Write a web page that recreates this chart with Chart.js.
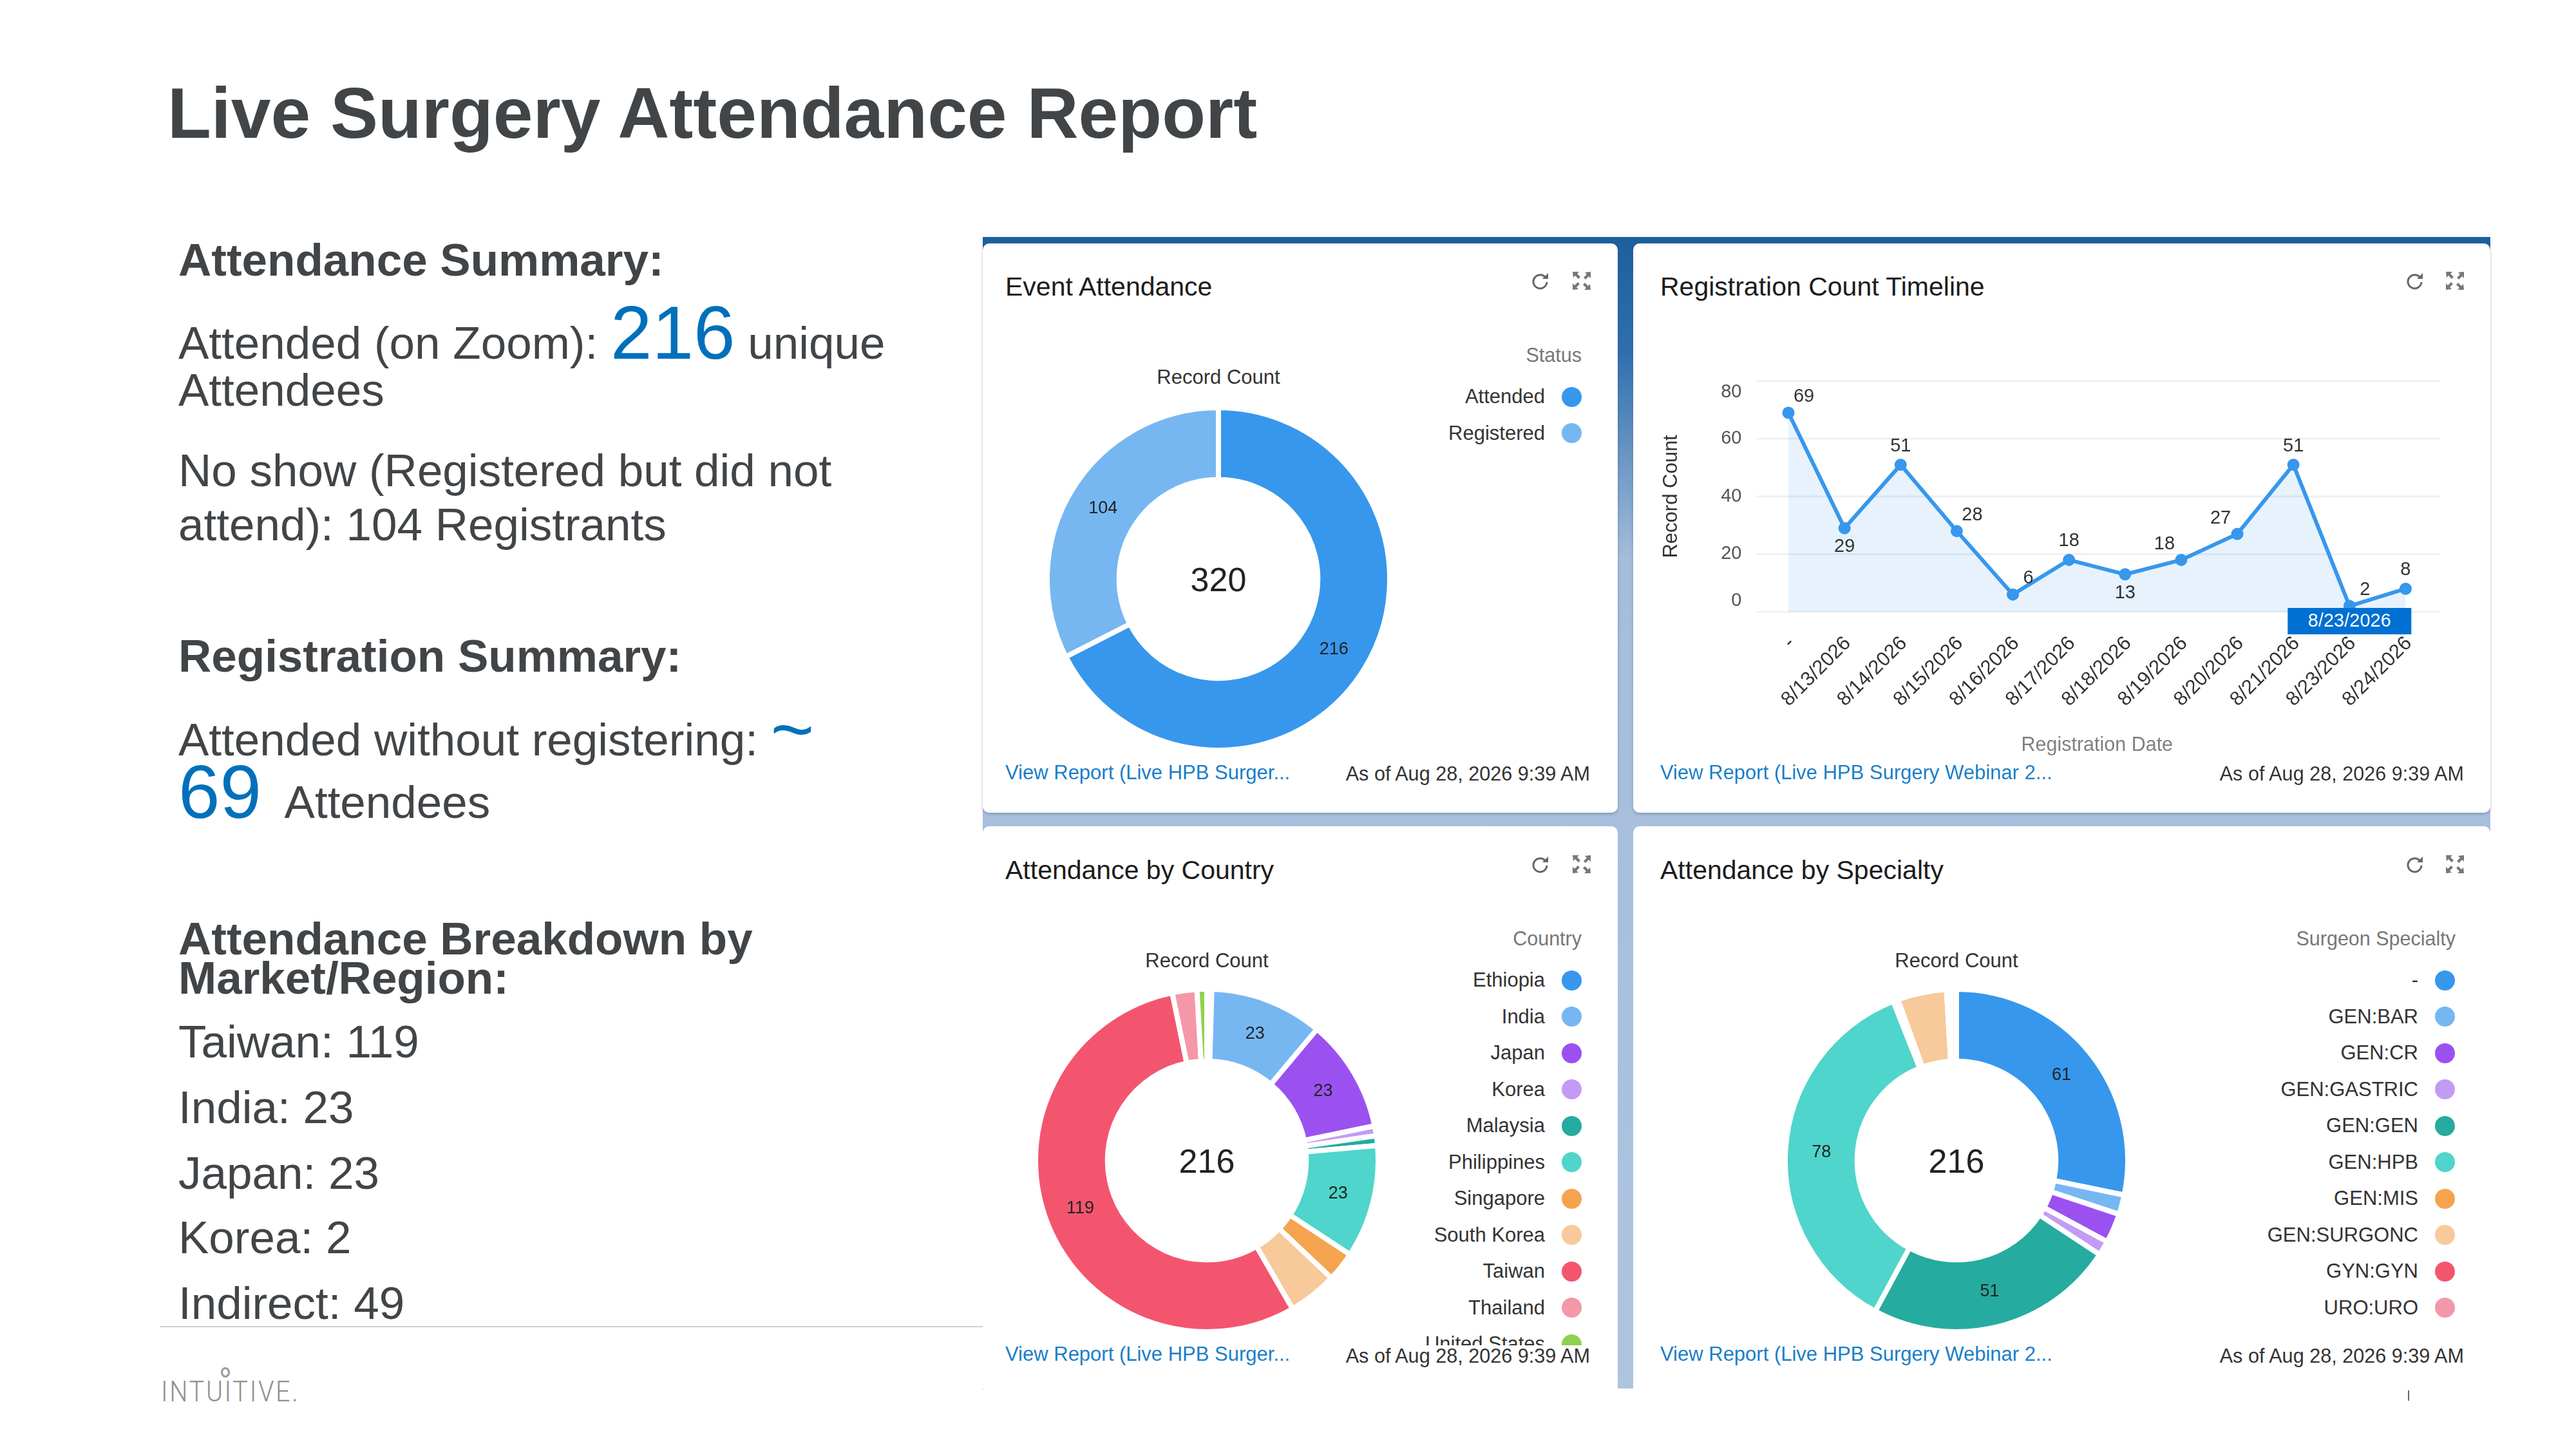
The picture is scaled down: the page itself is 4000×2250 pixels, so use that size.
<!DOCTYPE html>
<html>
<head>
<meta charset="utf-8">
<title>Live Surgery Attendance Report</title>
<script src="https://cdn.jsdelivr.net/npm/chart.js@4"></script>
<style>
  html, body { margin: 0; padding: 0; background: #fff; }
  #page { position: relative; width: 4000px; height: 2250px; overflow: hidden; background: #fff;
          font-family: "Liberation Sans", Arial, sans-serif; color: #414548; }
  .t { position: absolute; white-space: nowrap; transform: translateY(-50%); line-height: 1; }
  .r { transform: translate(-100%, -50%); }
  .c { transform: translate(-50%, -50%); }
  .body { font-size: 71px; left: 277px; }
  .head { font-size: 71px; font-weight: bold; left: 277px; }
  .blue { color: #0070bb; }
  .panel { position: absolute; left: 1526px; top: 368px; width: 2341px; height: 1788px;
           background: linear-gradient(180deg, #1c5f9f 0, #2f6fae 10%, #a4bddb 28%, #aec4df 100%); }
  .card { position: absolute; background: #fff; border-radius: 10px; box-shadow: 0 2px 4px rgba(60,70,90,.35); }
  .title { font-size: 41px; color: #1c1c1c; }
  .rc { font-size: 31px; color: #333; }
  .link { font-size: 31px; color: #1a7ec8; }
  .asof { font-size: 30.6px; color: #333; }
  .ltitle { font-size: 30.5px; color: #777; }
  .legend { position: absolute; overflow: hidden; font-size: 31px; color: #333; }
  .row { height: 56.5px; display: flex; justify-content: flex-end; align-items: center; gap: 26px; white-space: nowrap; }
  .dot { width: 31px; height: 31px; border-radius: 50%; flex: none; }
  canvas { position: absolute; display: block; }
  .icon { position: absolute; width: 30px; height: 30px; }
</style>
</head>
<body>
<div id="page">
  <div class="t" style="left:260px;top:176px;font-size:111px;font-weight:bold">Live Surgery Attendance Report</div>

  <div class="t head" style="top:403px">Attendance Summary:</div>
  <div class="t body" style="top:517px">Attended (on Zoom): <span class="blue" style="font-size:116px">216</span> unique</div>
  <div class="t body" style="top:605px">Attendees</div>
  <div class="t body" style="top:730px">No show (Registered but did not</div>
  <div class="t body" style="top:814px">attend): 104 Registrants</div>

  <div class="t head" style="top:1018px">Registration Summary:</div>
  <div class="t body" style="top:1133px">Attended without registering: <span class="blue" style="font-size:116px">~</span></div>
  <div class="t body" style="top:1230px"><span class="blue" style="font-size:116px">69</span>&nbsp; Attendees</div>

  <div class="t head" style="top:1457px">Attendance Breakdown by</div>
  <div class="t head" style="top:1518px">Market/Region:</div>
  <div class="t body" style="top:1617px">Taiwan: 119</div>
  <div class="t body" style="top:1719px">India: 23</div>
  <div class="t body" style="top:1821px">Japan: 23</div>
  <div class="t body" style="top:1921px">Korea: 2</div>
  <div class="t body" style="top:2023px">Indirect: 49</div>

  <div style="position:absolute;left:249px;top:2059px;width:1277px;height:2px;background:#cfcfcf"></div>
  <div style="position:absolute;left:1526px;top:2059px;width:1px;height:99px;background:#d8d8d8"></div>

  <!-- logo -->
  <div style="position:absolute;left:343px;top:2123px;width:8px;height:10px;border:3px solid #999;border-radius:50%"></div>
  <div class="t" style="left:250px;top:2161px;font-family:Roboto,sans-serif;font-weight:300;font-size:44px;color:#909090;letter-spacing:3px;transform-origin:left center;transform:translateY(-50%) scaleX(.9)">INTUITIVE.</div>
  <div style="position:absolute;left:3739px;top:2159px;width:2px;height:16px;background:#666"></div>

  <div class="panel"></div>
  <div class="card" style="left:1526px;top:378px;width:986px;height:884px"></div>
  <div class="card" style="left:2536px;top:378px;width:1331px;height:884px"></div>
  <div class="card" style="left:1526px;top:1283px;width:986px;height:873px;border-radius:10px 10px 0 0;box-shadow:none"></div>
  <div class="card" style="left:2536px;top:1283px;width:1331px;height:873px;border-radius:10px 10px 0 0;box-shadow:none"></div>

  <!-- Event Attendance -->
  <div class="t title" style="left:1561px;top:445px">Event Attendance</div>
  <div class="t c rc" style="left:1892px;top:585px">Record Count</div>
  <div class="t r ltitle" style="left:2456px;top:551px">Status</div>
  <div class="legend" id="legendEvent" style="left:2100px;top:588px;width:356px;height:120px"></div>
  <canvas id="chartEvent" width="540" height="540" style="left:1622px;top:629px"></canvas>
  <div class="t link" style="left:1561px;top:1199px">View Report (Live HPB Surger...</div>
  <div class="t r asof" style="left:2469px;top:1201px">As of Aug 28, 2026 9:39 AM</div>

  <!-- Registration Count Timeline -->
  <div class="t title" style="left:2578px;top:445px">Registration Count Timeline</div>
  <canvas id="chartTimeline" width="1273" height="654" style="left:2577px;top:536px"></canvas>
  <div class="t link" style="left:2578px;top:1199px">View Report (Live HPB Surgery Webinar 2...</div>
  <div class="t r asof" style="left:3826px;top:1201px">As of Aug 28, 2026 9:39 AM</div>

  <!-- Attendance by Country -->
  <div class="t title" style="left:1561px;top:1351px">Attendance by Country</div>
  <div class="t c rc" style="left:1874px;top:1491px">Record Count</div>
  <div class="t r ltitle" style="left:2456px;top:1457px">Country</div>
  <div class="legend" id="legendCountry" style="left:2100px;top:1494px;width:356px;height:595px"></div>
  <canvas id="chartCountry" width="540" height="540" style="left:1604px;top:1532px"></canvas>
  <div class="t link" style="left:1561px;top:2102px">View Report (Live HPB Surger...</div>
  <div class="t r asof" style="left:2469px;top:2105px">As of Aug 28, 2026 9:39 AM</div>

  <!-- Attendance by Specialty -->
  <div class="t title" style="left:2578px;top:1351px">Attendance by Specialty</div>
  <div class="t c rc" style="left:3038px;top:1491px">Record Count</div>
  <div class="t r ltitle" style="left:3813px;top:1457px">Surgeon Specialty</div>
  <div class="legend" id="legendSpecialty" style="left:3400px;top:1494px;width:412px;height:570px"></div>
  <canvas id="chartSpecialty" width="540" height="540" style="left:2768px;top:1532px"></canvas>
  <div class="t link" style="left:2578px;top:2102px">View Report (Live HPB Surgery Webinar 2...</div>
  <div class="t r asof" style="left:3826px;top:2105px">As of Aug 28, 2026 9:39 AM</div>
</div>

<script>
// --- data ---
const eventLabels = ['Attended', 'Registered'];
const eventValues = [216, 104];

const timelineDates = ['-', '8/13/2026', '8/14/2026', '8/15/2026', '8/16/2026', '8/17/2026', '8/18/2026', '8/19/2026', '8/20/2026', '8/21/2026', '8/23/2026', '8/24/2026'];
const timelineValues = [69, 29, 51, 28, 6, 18, 13, 18, 27, 51, 2, 8];
const timelineLabelSides = ['ne', 's', 'n', 'ne', 'ne', 'n', 's', 'nw', 'nw', 'n', 'ne', 'n'];
const timelineTicks = [0, 20, 40, 60, 80];
const highlightedDate = '8/23/2026';

const countryLabels = ['Ethiopia', 'India', 'Japan', 'Korea', 'Malaysia', 'Philippines', 'Singapore', 'South Korea', 'Taiwan', 'Thailand', 'United States'];
const countryValues = [1, 23, 23, 2, 2, 23, 6, 10, 119, 5, 2];

const specialtyLabels = ['-', 'GEN:BAR', 'GEN:CR', 'GEN:GASTRIC', 'GEN:GEN', 'GEN:HPB', 'GEN:MIS', 'GEN:SURGONC', 'GYN:GYN', 'URO:URO'];
const specialtyValues = [61, 4, 6, 3, 51, 78, 1, 10, 1, 1];

const palette = ['#3797ec', '#76b7f2', '#9b51f0', '#c49bf4', '#25ab9f', '#4fd5cb', '#f5a34e', '#f8c99a', '#f3556f', '#f497a9', '#8fd14f'];

const fontFamily = '"Liberation Sans", Arial, sans-serif';
Chart.defaults.font.family = fontFamily;
Chart.defaults.animation = false;
Chart.defaults.devicePixelRatio = 1;

// total in the hole + counts on the big slices
const donutText = {
    id: 'donutText',
    afterDatasetsDraw(chart) {
        const ctx = chart.ctx;
        const arcs = chart.getDatasetMeta(0).data;
        const values = chart.data.datasets[0].data;
        ctx.save();
        ctx.textAlign = 'center';
        ctx.textBaseline = 'middle';
        ctx.fillStyle = '#222';
        ctx.font = '27px ' + fontFamily;
        arcs.forEach((arc, i) => {
            if (values[i] < 20) return;
            const p = arc.getCenterPoint();
            ctx.fillText(values[i], p.x, p.y);
        });
        ctx.font = '52px ' + fontFamily;
        ctx.fillText(values.reduce((a, b) => a + b, 0), arcs[0].x, arcs[0].y + 5);
        ctx.restore();
    }
};

function makeDonut(id, labels, values) {
    return new Chart(document.getElementById(id), {
        type: 'doughnut',
        data: {
            labels: labels,
            datasets: [{ data: values, backgroundColor: palette, borderColor: '#fff', borderWidth: 8 }]
        },
        options: {
            responsive: false,
            cutout: '58%',
            plugins: { legend: { display: false }, tooltip: { enabled: false } }
        },
        plugins: [donutText]
    });
}

function makeLegend(id, labels) {
    document.getElementById(id).innerHTML = labels.map((l, i) =>
        `<div class="row"><span>${l}</span><span class="dot" style="background:${palette[i]}"></span></div>`
    ).join('');
}

makeDonut('chartEvent', eventLabels, eventValues);
makeDonut('chartCountry', countryLabels, countryValues);
makeDonut('chartSpecialty', specialtyLabels, specialtyValues);
makeLegend('legendEvent', eventLabels);
makeLegend('legendCountry', countryLabels);
makeLegend('legendSpecialty', specialtyLabels);

// horizontal lines run a little past the first and last category
const timelineGrid = {
    id: 'timelineGrid',
    beforeDatasetsDraw(chart) {
        const { ctx, chartArea, scales } = chart;
        ctx.save();
        ctx.strokeStyle = '#eef0f3';
        ctx.lineWidth = 3;
        scales.y.ticks.forEach(t => {
            const y = scales.y.getPixelForValue(t.value);
            ctx.beginPath();
            ctx.moveTo(chartArea.left - 6, y);
            ctx.lineTo(chartArea.right + 10, y);
            ctx.stroke();
        });
        ctx.restore();
    }
};

// value labels and the blue date tag on the axis
const timelineMarks = {
    id: 'timelineMarks',
    afterDatasetsDraw(chart) {
        const { ctx, scales } = chart;
        const pts = chart.getDatasetMeta(0).data;
        const sides = { n: [0, -29], s: [0, 29], ne: [24, -25], nw: [-26, -24] };
        ctx.save();
        ctx.textAlign = 'center';
        ctx.textBaseline = 'middle';
        ctx.font = '29px ' + fontFamily;
        ctx.fillStyle = '#333';
        pts.forEach((p, i) => {
            const s = sides[timelineLabelSides[i]];
            ctx.fillText(timelineValues[i], p.x + s[0], p.y + s[1]);
        });
        const x = scales.x.getPixelForValue(timelineDates.indexOf(highlightedDate));
        const y0 = scales.y.getPixelForValue(0);
        ctx.fillStyle = '#0070d2';
        ctx.fillRect(x - 96, y0 - 6, 192, 41);
        ctx.fillStyle = '#fff';
        ctx.fillText(highlightedDate, x, y0 + 15);
        ctx.restore();
    }
};

new Chart(document.getElementById('chartTimeline'), {
    type: 'line',
    data: {
        labels: timelineDates,
        datasets: [{
            data: timelineValues,
            borderColor: '#3797ec',
            borderWidth: 6,
            tension: 0,
            fill: 'origin',
            backgroundColor: 'rgba(55,151,236,0.12)',
            pointRadius: 9.5,
            pointBackgroundColor: '#3797ec',
            pointBorderWidth: 0
        }]
    },
    options: {
        responsive: false,
        layout: { padding: { top: 0, right: 71 } },
        plugins: { legend: { display: false }, tooltip: { enabled: false } },
        scales: {
            x: {
                offset: true,
                afterFit: s => { s.height = 240; },
                grid: { display: false },
                border: { display: false },
                ticks: { autoSkip: false, minRotation: 45, maxRotation: 45, padding: 23, labelOffset: 5, color: '#333', font: { size: 31 } },
                title: { display: true, text: 'Registration Date', color: '#808080', font: { size: 30.5 }, padding: { bottom: 14 } }
            },
            y: {
                min: 0,
                max: 80,
                afterFit: s => { s.width = 156.5; },
                afterBuildTicks: s => { s.ticks = timelineTicks.map(v => ({ value: v })); },
                grid: { display: false },
                border: { display: false },
                ticks: {
                    padding: 21,
                    color: '#555',
                    font: { size: 29, lineHeight: 1.2 },
                    // the end labels sit half a line inside the plot in the source
                    callback: v => v === 80 ? ['', '80'] : v === 0 ? ['0', ''] : String(v)
                },
                title: { display: true, text: 'Record Count', color: '#333', font: { size: 31 }, padding: { top: 0, bottom: 0 } }
            }
        }
    },
    plugins: [timelineGrid, timelineMarks]
});

// refresh / expand icons in each card header
const iconSpots = [[2392, 436], [3750, 436], [2392, 1342], [3750, 1342]];
const expandSpots = [[2456, 436], [3812, 436], [2456, 1342], [3812, 1342]];
const page = document.getElementById('page');
iconSpots.forEach(s => {
    page.insertAdjacentHTML('beforeend', `<svg class="icon" viewBox="0 0 30 30" style="left:${s[0] - 15}px;top:${s[1] - 15}px"><path d="M22 9a10.5 10.5 0 1 0 3 8" fill="none" stroke="#666" stroke-width="3"/><path d="M27 3v9h-9z" fill="#666"/></svg>`);
});
expandSpots.forEach(s => {
    page.insertAdjacentHTML('beforeend', `<svg class="icon" viewBox="0 0 30 30" style="left:${s[0] - 15}px;top:${s[1] - 15}px"><path d="M1 1h10l-3 3 5 5-3 3-5-5-3 3zM29 1v10l-3-3-5 5-3-3 5-5-3-3zM1 29v-10l3 3 5-5 3 3-5 5 3 3zM29 29h-10l3-3-5-5 3-3 5 5 3-3z" fill="#777"/></svg>`);
});
</script>
</body>
</html>
